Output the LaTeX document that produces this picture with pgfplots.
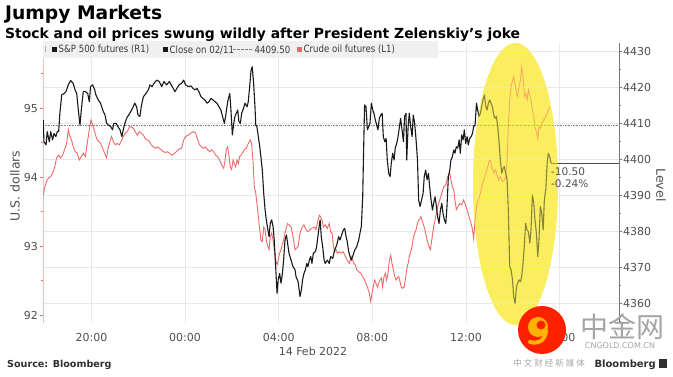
\documentclass[border=0pt]{standalone}
\usepackage{fontspec}
\setmainfont{DejaVu Sans}
\newfontfamily\legfont[FakeStretch=0.86]{DejaVu Sans}
\newfontfamily\cjk{Noto Sans CJK SC}
\usepackage{pgfplots}
\usepackage{pgfplotstable}
\pgfplotsset{compat=1.18}
\definecolor{crude}{RGB}{240,105,105}
\definecolor{spx}{RGB}{25,25,25}
\definecolor{gridgrey}{RGB}{232,232,232}
\definecolor{axisgrey}{RGB}{120,120,120}
\definecolor{pinkaxis}{RGB}{245,190,190}
\definecolor{labgrey}{RGB}{80,80,80}
\definecolor{hl}{RGB}{250,238,95}
\definecolor{leggrey}{RGB}{240,240,240}
\definecolor{wmgrey}{RGB}{165,165,165}

\pgfplotstableread{
x y
17.94 4411.0
17.97 4405.0
18.06 4404.1
18.11 4407.8
18.20 4405.0
18.26 4407.8
18.34 4405.5
18.40 4407.3
18.48 4406.4
18.54 4407.8
18.60 4407.8
18.65 4412.9
18.73 4418.0
18.83 4418.4
18.91 4418.9
19.01 4420.8
19.11 4422.0
19.22 4421.2
19.30 4419.4
19.37 4418.4
19.44 4413.8
19.51 4409.6
19.58 4414.7
19.65 4418.9
19.75 4418.9
19.84 4418.4
19.91 4416.1
19.96 4420.3
20.05 4420.8
20.14 4419.4
20.19 4418.0
20.29 4416.6
20.39 4415.7
20.48 4413.8
20.58 4412.4
20.65 4410.1
20.73 4409.6
20.82 4409.2
20.90 4408.3
20.96 4410.1
21.05 4410.1
21.13 4409.2
21.22 4408.3
21.30 4406.4
21.36 4408.3
21.43 4410.1
21.50 4411.5
21.59 4412.4
21.67 4413.3
21.76 4414.3
21.85 4415.7
21.93 4414.7
21.99 4412.4
22.07 4412.0
22.14 4415.2
22.22 4417.5
22.33 4418.4
22.43 4419.4
22.50 4420.8
22.59 4420.3
22.67 4421.2
22.79 4422.1
22.90 4421.7
23.00 4420.3
23.10 4421.7
23.21 4420.8
23.33 4421.7
23.45 4420.3
23.57 4418.9
23.65 4419.8
23.74 4420.8
23.85 4421.2
23.94 4422.1
24.02 4420.8
24.14 4420.3
24.25 4420.5
24.34 4419.8
24.42 4419.4
24.51 4419.8
24.59 4418.9
24.68 4417.5
24.77 4417.0
24.85 4416.6
24.94 4415.7
25.02 4416.1
25.11 4417.0
25.19 4416.6
25.28 4416.1
25.36 4415.7
25.45 4414.7
25.53 4413.8
25.62 4411.5
25.68 4410.1
25.73 4412.0
25.82 4416.1
25.91 4418.4
25.96 4413.8
26.02 4406.9
26.08 4410.1
26.13 4412.0
26.19 4412.9
26.25 4413.8
26.30 4410.6
26.36 4410.1
26.42 4412.9
26.50 4414.3
26.56 4415.7
26.65 4414.7
26.70 4416.1
26.76 4420.3
26.82 4424.9
26.87 4425.8
26.93 4421.2
26.99 4414.3
27.02 4409.6
27.07 4409.2
27.13 4406.4
27.19 4403.6
27.24 4400.8
27.30 4397.1
27.36 4390.7
27.42 4386.0
27.47 4383.3
27.53 4380.9
27.59 4378.6
27.64 4382.3
27.70 4383.3
27.76 4381.4
27.81 4377.7
27.87 4370.3
27.93 4362.9
27.98 4366.6
28.04 4368.4
28.10 4365.7
28.16 4368.4
28.21 4372.1
28.27 4377.7
28.33 4379.1
28.38 4376.8
28.44 4374.0
28.53 4372.1
28.61 4370.3
28.70 4369.4
28.74 4367.5
28.83 4366.1
28.91 4362.0
28.97 4363.8
29.02 4366.6
29.08 4368.4
29.14 4369.4
29.20 4371.2
29.25 4370.3
29.31 4372.1
29.37 4373.1
29.42 4371.2
29.48 4374.0
29.57 4374.5
29.62 4375.8
29.71 4380.5
29.77 4383.3
29.82 4378.6
29.88 4375.8
29.94 4372.1
29.99 4371.2
30.08 4372.1
30.16 4371.2
30.22 4373.1
30.31 4372.6
30.39 4374.9
30.48 4376.3
30.56 4378.6
30.62 4377.7
30.71 4379.5
30.76 4380.5
30.82 4380.9
30.88 4378.6
30.93 4377.2
30.99 4374.5
31.05 4373.1
31.10 4372.1
31.16 4373.1
31.25 4374.9
31.33 4375.8
31.42 4377.7
31.47 4379.5
31.53 4381.4
31.59 4389.7
31.62 4399.9
31.65 4409.2
31.67 4415.2
31.73 4414.7
31.79 4408.3
31.85 4409.2
31.90 4410.1
31.96 4415.7
32.02 4413.8
32.07 4412.9
32.13 4411.0
32.19 4409.6
32.24 4408.3
32.30 4411.5
32.36 4412.4
32.42 4412.9
32.47 4406.4
32.53 4405.0
32.59 4405.9
32.64 4399.9
32.70 4396.2
32.76 4395.3
32.81 4399.0
32.87 4401.8
32.93 4399.9
32.98 4403.2
33.04 4404.5
33.10 4406.4
33.16 4409.2
33.21 4411.5
33.27 4408.3
33.33 4405.0
33.38 4412.0
33.44 4412.9
33.47 4399.9
33.53 4409.2
33.58 4412.9
33.64 4409.2
33.70 4406.4
33.75 4412.4
33.81 4410.1
33.87 4405.5
33.93 4399.9
33.98 4388.8
34.04 4387.0
34.17 4390.7
34.22 4395.3
34.28 4397.1
34.34 4394.4
34.40 4396.2
34.45 4392.5
34.51 4388.8
34.57 4386.0
34.62 4387.9
34.68 4389.7
34.74 4387.0
34.79 4384.2
34.85 4382.3
34.91 4386.0
34.97 4387.9
35.02 4385.1
35.08 4383.3
35.14 4382.3
35.19 4387.0
35.25 4395.3
35.31 4397.1
35.36 4399.9
35.42 4400.8
35.48 4402.7
35.53 4401.8
35.59 4403.6
35.65 4403.2
35.71 4405.5
35.76 4401.8
35.82 4406.9
35.88 4405.5
35.93 4408.3
35.99 4404.5
36.05 4406.4
36.10 4404.1
36.16 4405.9
36.22 4406.4
36.28 4407.3
36.33 4409.2
36.39 4409.6
36.45 4415.7
36.50 4413.8
36.56 4412.0
36.62 4412.9
36.67 4414.7
36.73 4416.6
36.79 4418.0
36.85 4414.7
36.90 4413.8
36.96 4415.7
37.02 4416.6
37.07 4415.7
37.13 4414.7
37.19 4412.4
37.24 4411.5
37.30 4412.0
37.36 4409.2
37.42 4404.5
37.47 4399.9
37.53 4396.2
37.59 4397.6
37.64 4398.1
37.70 4396.2
37.76 4394.4
37.81 4386.0
37.87 4370.3
37.93 4369.4
37.99 4366.6
38.04 4362.0
38.10 4360.1
38.16 4364.7
38.21 4365.7
38.27 4366.6
38.33 4366.1
38.38 4367.5
38.44 4371.2
38.50 4376.8
38.55 4382.3
38.61 4380.5
38.67 4380.0
38.73 4376.8
38.78 4380.5
38.84 4390.2
38.90 4387.9
38.95 4383.3
39.01 4379.5
39.07 4373.1
39.12 4377.7
39.18 4387.0
39.24 4385.1
39.30 4380.5
39.35 4388.8
39.41 4391.6
39.47 4399.0
39.52 4401.8
39.58 4400.8
39.64 4399.0
}\spxdata

\pgfplotstableread{
x y
17.94 93.74
18.01 93.86
18.08 93.94
18.17 93.99
18.26 94.01
18.34 94.06
18.43 94.15
18.51 94.28
18.60 94.32
18.68 94.28
18.77 94.32
18.85 94.40
18.94 94.49
19.01 94.69
19.08 94.59
19.15 94.54
19.22 94.44
19.31 94.37
19.39 94.35
19.48 94.25
19.57 94.30
19.65 94.35
19.74 94.30
19.82 94.49
19.91 94.69
19.98 94.83
20.05 94.76
20.14 94.66
20.22 94.56
20.31 94.52
20.39 94.49
20.48 94.42
20.56 94.35
20.65 94.28
20.70 94.40
20.79 94.52
20.86 94.59
20.93 94.52
21.02 94.47
21.10 94.49
21.19 94.47
21.27 94.52
21.36 94.59
21.45 94.64
21.53 94.66
21.62 94.73
21.70 94.73
21.79 94.71
21.87 94.66
21.96 94.61
22.04 94.66
22.13 94.64
22.22 94.61
22.30 94.56
22.39 94.54
22.47 94.52
22.56 94.47
22.64 94.44
22.73 94.42
22.81 94.44
22.90 94.42
22.98 94.40
23.07 94.37
23.16 94.36
23.24 94.37
23.33 94.35
23.43 94.32
23.57 94.35
23.71 94.40
23.85 94.42
23.94 94.54
24.02 94.59
24.14 94.61
24.25 94.64
24.37 94.66
24.45 94.64
24.54 94.54
24.62 94.47
24.71 94.44
24.79 94.42
24.88 94.44
24.96 94.40
25.05 94.37
25.14 94.40
25.22 94.37
25.31 94.32
25.39 94.30
25.48 94.25
25.56 94.18
25.65 94.13
25.71 94.25
25.76 94.40
25.82 94.44
25.88 94.30
25.93 94.15
25.99 94.11
26.05 94.25
26.10 94.20
26.16 94.15
26.22 94.25
26.28 94.20
26.33 94.30
26.39 94.32
26.45 94.35
26.53 94.40
26.62 94.42
26.70 94.49
26.79 94.54
26.84 94.49
26.90 94.25
26.96 93.86
27.02 93.77
27.07 93.62
27.13 93.43
27.19 93.24
27.24 93.09
27.30 93.07
27.36 93.28
27.42 93.24
27.47 93.09
27.53 93.00
27.59 92.95
27.64 93.14
27.70 93.19
27.76 93.09
27.81 92.95
27.87 92.80
27.93 92.73
27.98 92.80
28.04 92.90
28.10 92.95
28.16 93.04
28.21 93.09
28.27 93.19
28.33 93.28
28.38 93.33
28.44 93.31
28.53 93.28
28.61 93.14
28.70 92.95
28.83 93.00
28.91 93.19
29.00 93.28
29.08 93.31
29.17 93.24
29.25 93.21
29.34 93.24
29.42 93.26
29.51 93.28
29.59 93.24
29.68 93.38
29.74 93.45
29.79 93.43
29.85 93.38
29.91 93.28
29.99 93.31
30.08 93.26
30.16 93.33
30.22 93.21
30.28 93.19
30.34 93.00
30.39 92.92
30.45 92.95
30.51 92.90
30.59 92.92
30.68 92.90
30.76 92.92
30.85 92.85
30.93 92.80
31.02 92.75
31.10 92.85
31.16 92.80
31.22 92.75
31.28 92.73
31.33 92.66
31.42 92.63
31.50 92.61
31.59 92.56
31.67 92.51
31.73 92.46
31.79 92.41
31.87 92.32
31.93 92.20
31.99 92.32
32.04 92.41
32.10 92.51
32.16 92.46
32.22 92.41
32.27 92.46
32.33 92.51
32.39 92.54
32.44 92.41
32.50 92.56
32.56 92.61
32.61 92.51
32.67 92.61
32.73 92.80
32.79 92.87
32.84 92.75
32.90 92.66
32.96 92.56
33.01 92.51
33.07 92.54
33.13 92.56
33.18 92.49
33.24 92.41
33.30 92.39
33.36 92.41
33.41 92.51
33.47 92.66
33.53 92.75
33.58 92.85
33.64 92.92
33.70 93.00
33.75 93.12
33.81 93.19
33.87 93.24
33.93 93.33
33.98 93.38
34.04 93.40
34.08 93.43
34.17 93.33
34.25 93.24
34.34 93.09
34.42 93.00
34.48 92.95
34.54 93.09
34.62 93.28
34.71 93.43
34.79 93.57
34.88 93.67
34.97 93.77
35.05 93.86
35.14 93.89
35.22 94.01
35.31 94.06
35.36 93.96
35.42 93.86
35.48 93.82
35.53 93.67
35.59 93.53
35.65 93.57
35.73 93.62
35.82 93.60
35.90 93.67
35.96 93.62
36.05 93.53
36.13 93.43
36.22 93.33
36.28 93.24
36.33 93.11
36.39 93.38
36.45 93.57
36.53 93.67
36.62 93.77
36.67 93.86
36.76 93.96
36.85 94.06
36.93 94.15
36.99 94.23
37.04 94.25
37.10 94.15
37.19 94.06
37.27 94.11
37.33 94.03
37.39 93.96
37.47 94.01
37.56 93.94
37.64 93.96
37.70 94.01
37.76 94.25
37.81 94.73
37.87 95.12
37.93 95.31
37.99 95.41
38.04 95.46
38.10 95.36
38.16 95.22
38.21 95.17
38.27 95.31
38.33 95.41
38.38 95.60
38.44 95.46
38.50 95.17
38.55 95.22
38.61 95.12
38.67 95.27
38.73 95.17
38.78 95.12
38.84 94.98
38.90 94.88
38.95 94.73
39.01 94.66
39.07 94.56
39.12 94.73
39.18 94.71
39.24 94.78
39.32 94.83
39.41 94.88
39.49 94.95
39.58 95.02
}\crudedata

\pgfplotsset{
  common/.style={
    at={(43pt,54pt)}, anchor=south west,
    width=576pt, height=280pt, scale only axis,
    xmin=17.93, xmax=42.54,
  },
  ticklab/.style={font=\fontsize{11}{12}\selectfont, text=labgrey},
}

\begin{document}
\begin{tikzpicture}[x=1pt,y=1pt]
\path[use as bounding box] (0,0) rectangle (673,377);
\fill[white] (0,0) rectangle (673,377);
% highlight underneath
\fill[hl] (515.5,193) ellipse [x radius=42.5, y radius=141];

% axis 1: right scale, grids, ticks
\begin{axis}[common,
  ymin=4354.64, ymax=4432.42,
  axis x line*=bottom, x axis line style={draw=none},
  axis y line*=right, y axis line style={draw=axisgrey, line width=0.8pt},
  xtick={20,24,28,32,36,40},
  xticklabels={20:00,00:00,04:00,08:00,12:00,16:00},
  xtick style={draw=none},
  xmajorgrids, ymajorgrids,
  grid style={gridgrey, line width=0.6pt},
  ytick={4360,4370,...,4430},
  minor ytick={4355,4365,...,4425},
  tick align=outside,
  ytick style={axisgrey, line width=0.6pt},
  major tick length=3pt, minor tick length=2pt,
  yticklabel style={ticklab, /pgf/number format/1000 sep={}, /pgf/number format/assume math mode=true, inner sep=1pt},
  xticklabel style={ticklab, yshift=-4pt},
]
\addplot[gray, line width=0.8pt, dash pattern=on 0.8pt off 0.8pt] coordinates {(17.93,4409.5) (42.54,4409.5)};
\end{axis}

% axis 2: left scale, crude oil
\begin{axis}[common,
  ymin=91.888, ymax=95.946,
  axis x line=none,
  axis y line*=left, y axis line style={draw=pinkaxis, line width=0.8pt},
  ytick={92,93,94,95}, minor ytick={92.5,93.5,94.5,95.5},
  tick align=outside, ytick style={crude, line width=0.6pt},
  major tick length=3pt, minor tick length=2pt,
  yticklabel style={ticklab, /pgf/number format/assume math mode=true, inner sep=2pt},
]
\addplot[crude, line width=0.9pt] table[x=x,y=y] {\crudedata};
\end{axis}

% axis 3: right scale, S&P
\begin{axis}[common,
  ymin=4354.64, ymax=4432.42,
  hide axis,
]
\addplot[spx, line width=1.1pt, line join=round] table[x=x,y=y] {\spxdata};
\addplot[spx!80, line width=0.6pt] coordinates {(39.64,4399) (42.54,4399)};
\end{axis}

% highlight on top
\fill[hl, fill opacity=0.5] (515.5,193) ellipse [x radius=42.5, y radius=141];

% change annotation
\node[anchor=west, inner sep=0, text=labgrey, font=\fontsize{10.5}{11}\selectfont] at (551,205) {-10.50};
\node[anchor=west, inner sep=0, text=labgrey, font=\fontsize{10.5}{11}\selectfont] at (551,193) {-0.24\%};

% axis titles
\node[rotate=90, text=labgrey, font=\fontsize{12.5}{13}\selectfont] at (15,191) {U.S. dollars};
\node[rotate=-90, text=labgrey, font=\fontsize{12.5}{13}\selectfont] at (661,192) {Level};
\node[text=labgrey, font=\fontsize{11}{12}\selectfont] at (313,26) {14 Feb 2022};

% legend
\fill[leggrey] (43,319) rectangle (438,336);
\fill[gray!60] (45.3,324.5) rectangle (46.3,330.5);
\fill[spx] (52,325) rectangle (57,330);
\node[anchor=west, inner sep=0, text=spx!85, font=\legfont\fontsize{10}{11}\selectfont] at (58.5,327.3) {S\&P 500 futures (R1)};
\fill[spx] (163,325) rectangle (168,330);
\node[anchor=west, inner sep=0, text=spx!85, font=\legfont\fontsize{10}{11}\selectfont] at (169.5,327.3) {Close on 02/11};
\draw[gray, dash pattern=on 2.5pt off 1.5pt, line width=0.6pt] (233,327.5) -- (252,327.5);
\node[anchor=west, inner sep=0, text=spx!85, font=\legfont\fontsize{10}{11}\selectfont] at (254.5,327.3) {4409.50};
\fill[crude] (297,325) rectangle (302,330);
\node[anchor=west, inner sep=0, text=spx!85, font=\legfont\fontsize{10}{11}\selectfont] at (303.5,327.3) {Crude oil futures (L1)};

% titles
\node[anchor=base west, inner sep=0, font=\bfseries\fontsize{18.7}{20}\selectfont] at (5,357.5) {Jumpy Markets};
\node[anchor=base west, inner sep=0, font=\bfseries\fontsize{13.9}{15}\selectfont] at (5,338.5) {Stock and oil prices swung wildly after President Zelenskiy's joke};

% source
\node[anchor=base west, inner sep=0, font=\bfseries\fontsize{9.6}{10}\selectfont, text=spx!90] at (7,9) {Source: Bloomberg};
\node[anchor=base east, inner sep=0, font=\bfseries\fontsize{10}{11}\selectfont, text=spx!90] at (656,9) {Bloomberg};
\fill[spx!90] (659,9) rectangle (667,18);

% watermark
\node[anchor=east, inner sep=0, text=wmgrey, font=\cjk\fontsize{8.5}{9}\selectfont] at (585,14) {中\hspace{2pt}文\hspace{2pt}财\hspace{2pt}经\hspace{2pt}新\hspace{2pt}媒\hspace{2pt}体};
\node[inner sep=0, text=wmgrey, font=\cjk\fontsize{28}{29}\selectfont] at (622,50) {中金网};
\node[inner sep=0, text=wmgrey, font=\fontsize{8}{9}\selectfont] at (620,31) {CNGOLD.COM.CN};
\fill[red!75!orange] (542,47) circle (24);
\fill[orange!60!yellow] (538,50) circle (10);
\fill[red!75!orange] (541,52) circle (4.5);
\draw[orange!60!yellow, line width=4pt, line cap=round] (546,46) .. controls (545,36) and (538,33) .. (530,35);
\end{tikzpicture}
\end{document}
